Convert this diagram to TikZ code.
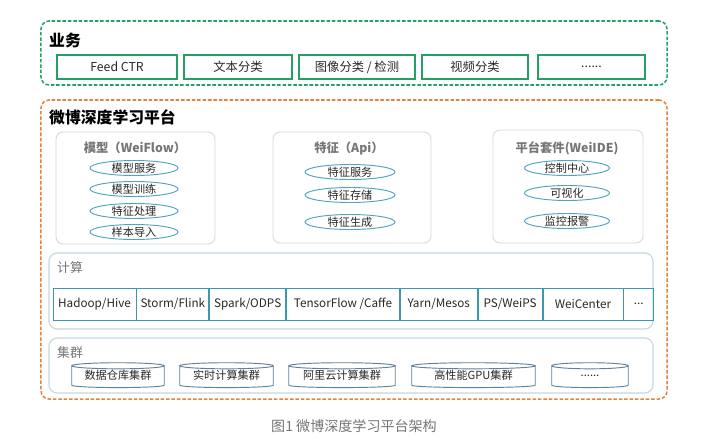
\documentclass[tikz,border=0pt]{standalone}
\usepackage{fontspec}
\setmainfont{Noto Sans CJK SC}
\usetikzlibrary{positioning,shapes.geometric,calc}
\definecolor{bizgreen}{RGB}{38,160,100}
\definecolor{platorange}{RGB}{226,132,62}
\definecolor{panelgray}{RGB}{212,218,222}
\definecolor{layerblue}{RGB}{198,216,226}
\definecolor{cellteal}{RGB}{62,150,176}
\definecolor{ovalteal}{RGB}{80,165,190}
\definecolor{drumblue}{RGB}{100,128,150}
\definecolor{inkdark}{RGB}{40,40,40}
\definecolor{inkgray}{RGB}{118,118,118}

\begin{document}
\begin{tikzpicture}[
  x=0.03cm, y=-0.03cm,
  frame/.style={rounded corners=7pt, line width=1.3pt, dash pattern=on 3pt off 1.6pt},
  biz/.style={
    draw=bizgreen, line width=1.3pt, fill=white, minimum height=0.72cm,
    inner sep=0pt, font=\fontsize{10.5}{12}\selectfont, text=inkdark
  },
  ttl/.style={anchor=west, inner sep=0pt, font=\fontsize{13.5}{15}\selectfont\bfseries, text=black},
  panel/.style={draw=panelgray, rounded corners=6pt, fill=white, line width=0.8pt},
  ptitle/.style={inner sep=0pt, font=\fontsize{10.5}{12}\selectfont\bfseries, text=inkgray},
  oval/.style={
    ellipse, draw=ovalteal, fill=white, line width=0.8pt, inner xsep=0pt, inner ysep=-1pt,
    minimum height=0.45cm, font=\fontsize{9.5}{10}\selectfont, text=inkdark
  },
  layer/.style={draw=layerblue, rounded corners=7pt, fill=white, line width=1pt},
  ltitle/.style={anchor=west, inner sep=0pt, font=\fontsize{11}{12}\selectfont, text=inkgray},
  cell/.style={
    draw=cellteal, line width=0.7pt, minimum height=0.96cm, inner sep=0pt,
    font=\fontsize{10}{12}\selectfont, text=inkdark
  },
  drum/.style={minimum height=0.57cm, inner sep=0pt, font=\fontsize{9.5}{11}\selectfont, text=inkdark},
  drumline/.style={draw=drumblue, line width=0.8pt}
]
\fill[white] (0,0) rectangle (704,444);
\useasboundingbox (0,0) rectangle (704,444);

% business layer
\node[frame, draw=bizgreen, minimum width=18.78cm, minimum height=1.92cm] (bizframe) at (354,53) {};
\node[ttl] (biztitle) at (49,40) {业务};
\node[biz, minimum width=3.6cm] (feed) at (117,67) {Feed CTR};
\node[biz, minimum width=3.24cm] (text) at (238,67) {文本分类};
\node[biz, minimum width=3.48cm] (image) at (357,67) {图像分类 / 检测};
\node[biz, minimum width=3.18cm] (video) at (475,67) {视频分类};
\node[biz, minimum width=3.21cm] (bizmore) at (591.5,67) {......};

% platform
\node[frame, draw=platorange, minimum width=18.78cm, minimum height=8.97cm] (platframe) at (354,249.5) {};
\node[ttl] (plattitle) at (49,117) {微博深度学习平台};

\node[panel, minimum width=4.77cm, minimum height=3.36cm] (model) at (135.5,188) {};
\node[ptitle] (modeltitle) at (135,148) {模型（WeiFlow）};
\node[oval, minimum width=2.64cm] (serve) at (134,168) {模型服务};
\node[oval, minimum width=2.64cm] (train) at (134,189) {模型训练};
\node[oval, minimum width=2.64cm] (fproc) at (134,211) {特征处理};
\node[oval, minimum width=2.64cm] (sample) at (134,232) {样本导入};

\node[panel, minimum width=4.74cm, minimum height=3.33cm] (feature) at (352,187.5) {};
\node[ptitle] (featuretitle) at (349,148) {特征（Api）};
\node[oval, minimum width=2.7cm] (fserve) at (350,172) {特征服务};
\node[oval, minimum width=2.7cm] (fstore) at (350,195) {特征存储};
\node[oval, minimum width=2.7cm] (fgen) at (350,222) {特征生成};

\node[panel, minimum width=4.5cm, minimum height=3.39cm] (suite) at (568,186.5) {};
\node[ptitle] (suitetitle) at (567,148) {平台套件(WeiIDE)};
\node[oval, minimum width=2.55cm] (control) at (567,168) {控制中心};
\node[oval, minimum width=2.55cm] (visual) at (567,193) {可视化};
\node[oval, minimum width=2.55cm] (alarm) at (567,221) {监控报警};

% compute layer
\node[layer, minimum width=18.12cm, minimum height=2.28cm] (compute) at (351,291) {};
\node[ltitle] (computetitle) at (57,268) {计算};
\node[cell, minimum width=2.49cm] (hadoop) at (94.5,304) {Hadoop/Hive};
\node[cell, minimum width=2.16cm, right=0pt of hadoop] (storm) {Storm/Flink};
\node[cell, minimum width=2.28cm, right=0pt of storm] (spark) {Spark/ODPS};
\node[cell, minimum width=3.39cm, right=0pt of spark] (tf) {TensorFlow /Caffe};
\node[cell, minimum width=2.31cm, right=0pt of tf] (yarn) {Yarn/Mesos};
\node[cell, minimum width=1.92cm, right=0pt of yarn] (ps) {PS/WeiPS};
\node[cell, minimum width=2.4cm, right=0pt of ps] (weicenter) {WeiCenter};
\node[cell, minimum width=0.9cm, right=0pt of weicenter] (cellmore) {...};

% cluster layer
\node[layer, minimum width=18.12cm, minimum height=1.65cm] (cluster) at (351,365.5) {};
\node[ltitle] (clustertitle) at (57,353) {集群};
\node[drum, minimum width=2.76cm] (dwh) at (118,375.5) {数据仓库集群};
\node[drum, minimum width=2.79cm] (rt) at (226.5,375.5) {实时计算集群};
\node[drum, minimum width=3.18cm] (ali) at (342,375.5) {阿里云计算集群};
\node[drum, minimum width=3.69cm] (gpu) at (473.5,375.5) {高性能GPU集群};
\node[drum, minimum width=2.28cm] (drummore) at (590,375.5) {......};
\foreach \d in {dwh,rt,ali,gpu,drummore}
  \draw[drumline] let \p1=($(\d.east)-(\d.center)$) in
    (\d.north west) -- (\d.south west)
    arc[start angle=180, end angle=360, x radius=\x1, y radius=2pt] -- (\d.north east)
    (\d.north) ellipse[x radius=\x1, y radius=2.6pt];

\node[font=\fontsize{12}{13}\selectfont, text=inkgray] (caption) at (354,426) {图1 微博深度学习平台架构};
\end{tikzpicture}
\end{document}
